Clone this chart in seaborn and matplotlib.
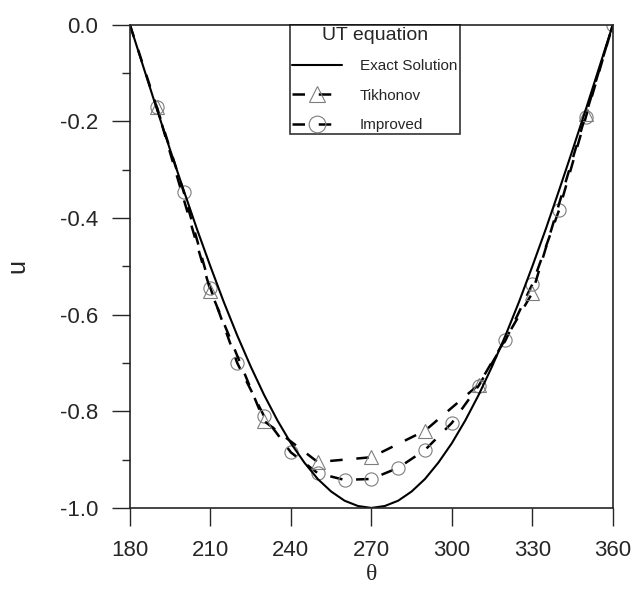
#%%
# Loading packages
import pandas as pd
import matplotlib
matplotlib.use("Agg")
import matplotlib.pyplot as plt
from matplotlib.ticker import MultipleLocator, FormatStrFormatter
import seaborn as sns

sns.set_style("ticks")
plt.rcParams['font.family'] = ['Liberation Sans', 'DejaVu Sans']

#%%
# Values
theta_exact = [180, 185, 190, 195, 200, 205, 210, 215, 220, 225, 230, 235, 240, 245, 250, 255,
               260, 265, 270, 275, 280, 285, 290, 295, 300, 305, 310, 315, 320, 325, 330, 335,
               340, 345, 350, 355, 360]
u_exact = [0.0, -0.087, -0.174, -0.259, -0.342, -0.423, -0.5, -0.574, -0.643, -0.707, -0.766,
           -0.819, -0.866, -0.906, -0.94, -0.966, -0.985, -0.996, -1.0, -0.996, -0.985, -0.966,
           -0.94, -0.906, -0.866, -0.819, -0.766, -0.707, -0.643, -0.574, -0.5, -0.423, -0.342,
           -0.259, -0.174, -0.087, 0.0]

theta_tik = [180, 190, 210, 230, 250, 270, 290, 310, 330, 350, 360]
u_tik = [0.0, -0.17, -0.55, -0.82, -0.905, -0.895, -0.84, -0.745, -0.555, -0.185, 0.0]

theta_imp = [190, 200, 210, 220, 230, 240, 250, 260, 270, 280, 290, 300, 310, 320, 330, 340, 350, 360]
u_imp = [-0.17, -0.345, -0.545, -0.70, -0.81, -0.885, -0.928, -0.942, -0.94, -0.917, -0.88,
         -0.824, -0.747, -0.653, -0.537, -0.383, -0.19, 0.0]

exact_df = pd.DataFrame({'theta': theta_exact, 'u': u_exact})
tik_df = pd.DataFrame({'theta': theta_tik, 'u': u_tik})
imp_df = pd.DataFrame({'theta': theta_imp, 'u': u_imp})

#%%
# Plot
fig = plt.figure(figsize=(6.37, 5.92), dpi=100)
ax = fig.add_axes([0.204, 0.142, 0.758, 0.816])

mk = dict(markerfacecolor='none', markeredgecolor='#7d7d7d', markeredgewidth=0.8, markersize=9.5)
dash = (0, (5, 5.5))

sns.lineplot(data=imp_df, x='theta', y='u', ax=ax, color='black', lw=1.8,
             linestyle=dash, marker='o', label='Improved', **mk)
sns.lineplot(data=tik_df, x='theta', y='u', ax=ax, color='black', lw=1.8,
             linestyle=dash, marker='^', markevery=list(range(1, len(theta_tik) - 1)),
             label='Tikhonov', **mk)
sns.lineplot(data=exact_df, x='theta', y='u', ax=ax, color='black', lw=1.5,
             label='Exact Solution')

ax.set_xlim(180, 360)
ax.set_ylim(-1.0, 0.0)
ax.xaxis.set_major_locator(MultipleLocator(30))
ax.yaxis.set_major_locator(MultipleLocator(0.2))
ax.yaxis.set_minor_locator(MultipleLocator(0.1))
ax.yaxis.set_major_formatter(FormatStrFormatter('%.1f'))
ax.tick_params(axis='both', which='major', direction='out', length=13, width=1, labelsize=16, pad=10)
ax.tick_params(axis='y', which='minor', direction='out', length=6, width=1)
for s in ax.spines.values():
    s.set_linewidth(1.2)
    s.set_visible(True)

ax.set_xlabel('θ', fontsize=17, family=['Liberation Serif', 'DejaVu Serif'], labelpad=2)
ax.set_ylabel('u', fontsize=18, labelpad=22)

h, l = ax.get_legend_handles_labels()
order = [l.index('Exact Solution'), l.index('Tikhonov'), l.index('Improved')]
leg = ax.legend([h[i] for i in order], [l[i] for i in order], title='UT equation',
                loc='upper left', bbox_to_anchor=(0.331, 1.0), fontsize=11, title_fontsize=14,
                frameon=True, fancybox=False, edgecolor='black', handlelength=3.3,
                borderpad=0.15, labelspacing=1.0, handletextpad=1.15, borderaxespad=0)
leg.get_frame().set_linewidth(1.2)
for lh in leg.legend_handles:
    lh.set_markersize(12)

fig.savefig('out.png', dpi=100)
